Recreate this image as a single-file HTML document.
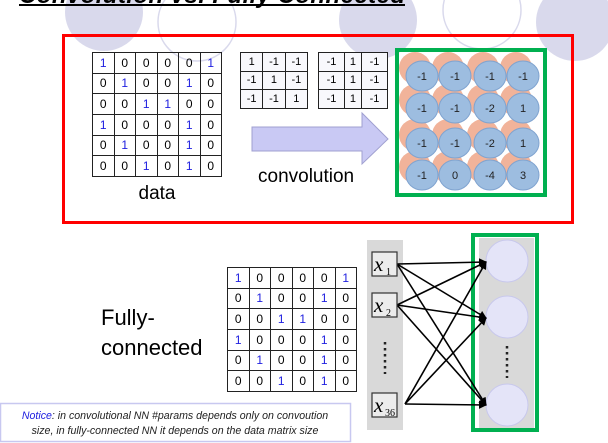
<!DOCTYPE html>
<html><head><meta charset="utf-8"><style>
html,body{margin:0;padding:0;background:#fff;}
body{width:608px;height:443px;overflow:hidden;position:relative;font-family:"Liberation Sans",sans-serif;}
table.m{position:absolute;border-collapse:collapse;}
table.m td{border:1.3px solid #222;text-align:center;padding:0;font-size:12px;color:#000;}
table.m td.b{color:#2020e0;}
table.k td{font-size:11px;background:#f8f8fc;}
</style></head><body>
<svg width="608" height="443" style="position:absolute;left:0;top:0">
<circle cx="104" cy="12" r="39" fill="#d9d9ec"/>
<circle cx="197" cy="22" r="39" fill="none" stroke="#d9d9ec" stroke-width="1.5"/>
<circle cx="378" cy="20" r="39" fill="#d9d9ec"/>
<circle cx="482" cy="10" r="39" fill="none" stroke="#d9d9ec" stroke-width="1.5"/>
<circle cx="575" cy="22" r="39" fill="#d9d9ec"/>
<text x="19" y="3" font-family="Liberation Sans" font-weight="bold" font-style="italic" font-size="24" fill="#000" textLength="386">Convolution vs. Fully Connected</text>
<line x1="19" y1="5" x2="405" y2="5" stroke="#000" stroke-width="2"/>
<rect x="63.5" y="35.5" width="509" height="187" fill="none" stroke="#f00" stroke-width="3"/>
<polygon points="252,127 362,127 362,113 388,139 362,164 362,151 252,151" fill="#c9c9f4" stroke="#a0a0d0" stroke-width="1"/>
<rect x="397" y="50" width="148" height="145" fill="none" stroke="#00b050" stroke-width="4"/>
<g fill="#f1b39a">
<circle cx="415" cy="68" r="16"/><circle cx="448" cy="68" r="16"/><circle cx="483" cy="68" r="16"/><circle cx="516" cy="68" r="16"/>
<circle cx="415" cy="100" r="16"/><circle cx="448" cy="100" r="16"/><circle cx="483" cy="100" r="16"/><circle cx="516" cy="100" r="16"/>
<circle cx="415" cy="135" r="16"/><circle cx="448" cy="135" r="16"/><circle cx="483" cy="135" r="16"/><circle cx="516" cy="135" r="16"/>
<circle cx="415" cy="167" r="16"/><circle cx="448" cy="167" r="16"/><circle cx="483" cy="167" r="16"/><circle cx="516" cy="167" r="16"/>
</g>
<g fill="#9dbde0" stroke="#7fa3cf" stroke-width="1">
<ellipse cx="422" cy="76" rx="16" ry="15"/><ellipse cx="455" cy="76" rx="16" ry="15"/><ellipse cx="490" cy="76" rx="16" ry="15"/><ellipse cx="523" cy="76" rx="16" ry="15"/>
<ellipse cx="422" cy="108" rx="16" ry="15"/><ellipse cx="455" cy="108" rx="16" ry="15"/><ellipse cx="490" cy="108" rx="16" ry="15"/><ellipse cx="523" cy="108" rx="16" ry="15"/>
<ellipse cx="422" cy="143" rx="16" ry="15"/><ellipse cx="455" cy="143" rx="16" ry="15"/><ellipse cx="490" cy="143" rx="16" ry="15"/><ellipse cx="523" cy="143" rx="16" ry="15"/>
<ellipse cx="422" cy="175" rx="16" ry="15"/><ellipse cx="455" cy="175" rx="16" ry="15"/><ellipse cx="490" cy="175" rx="16" ry="15"/><ellipse cx="523" cy="175" rx="16" ry="15"/>
</g>
<g font-family="Liberation Sans" font-size="11" fill="#222" text-anchor="middle">
<text x="422" y="80">-1</text><text x="455" y="80">-1</text><text x="490" y="80">-1</text><text x="523" y="80">-1</text>
<text x="422" y="112">-1</text><text x="455" y="112">-1</text><text x="490" y="112">-2</text><text x="523" y="112">1</text>
<text x="422" y="147">-1</text><text x="455" y="147">-1</text><text x="490" y="147">-2</text><text x="523" y="147">1</text>
<text x="422" y="179">-1</text><text x="455" y="179">0</text><text x="490" y="179">-4</text><text x="523" y="179">3</text>
</g>
<text x="258" y="182" font-family="Liberation Sans" font-size="19" fill="#000">convolution</text>
<text x="157" y="199" font-family="Liberation Sans" font-size="19" fill="#000" text-anchor="middle">data</text>
<rect x="367" y="240" width="36" height="190" fill="#d9d9d9"/>
<rect x="479" y="238" width="55" height="190" fill="#d9d9d9"/>
<rect x="473" y="235" width="64" height="195" fill="none" stroke="#00b050" stroke-width="4"/>
<g fill="#e4e4f8" stroke="#c8c8ec">
<ellipse cx="507" cy="261" rx="21" ry="21"/><ellipse cx="507" cy="317" rx="21" ry="21"/><ellipse cx="507" cy="405" rx="21" ry="21"/>
</g>
<line x1="507" y1="346" x2="507" y2="378" stroke="#222" stroke-width="2.5" stroke-dasharray="2.5,3.5"/>
<line x1="385" y1="342" x2="385" y2="374" stroke="#222" stroke-width="2.5" stroke-dasharray="2.5,3.5"/>
<defs><marker id="a" markerWidth="8" markerHeight="8" refX="7" refY="4" orient="auto" markerUnits="userSpaceOnUse"><path d="M0,0 L8,4 L0,8 z" fill="#000"/></marker></defs>
<g stroke="#000" stroke-width="1.6" marker-end="url(#a)">
<line x1="397" y1="264" x2="486" y2="262"/><line x1="397" y1="264" x2="486" y2="318"/><line x1="397" y1="264" x2="486" y2="405"/>
<line x1="397" y1="305" x2="486" y2="262"/><line x1="397" y1="305" x2="486" y2="318"/><line x1="397" y1="305" x2="486" y2="405"/>
<line x1="405" y1="404" x2="486" y2="262"/><line x1="405" y1="404" x2="486" y2="318"/><line x1="405" y1="404" x2="486" y2="405"/>
</g>
<g fill="#ececec" stroke="#333" stroke-width="1.2">
<rect x="372" y="252" width="25" height="24"/><rect x="372" y="293" width="25" height="24"/><rect x="372" y="393" width="25" height="24"/>
</g>
<g font-family="Liberation Serif" font-style="italic" fill="#000">
<text x="374" y="271" font-size="21">x</text><text x="386" y="275" font-size="10" font-style="normal">1</text>
<text x="374" y="312" font-size="21">x</text><text x="386" y="316" font-size="10" font-style="normal">2</text>
<text x="374" y="412" font-size="21">x</text><text x="385" y="416" font-size="10" font-style="normal">36</text>
</g>
<rect x="0.5" y="403.5" width="350" height="38" fill="#fff" stroke="#c8c8f0" stroke-width="1.5"/>
<text x="175" y="419" font-family="Liberation Sans" font-style="italic" font-size="10.6" fill="#222" text-anchor="middle"><tspan fill="#2020e0">Notice</tspan>: in convolutional NN #params depends only on convoution</text>
<text x="175" y="434" font-family="Liberation Sans" font-style="italic" font-size="10.6" fill="#222" text-anchor="middle">size, in fully-connected NN it depends on the data matrix size</text>
<text x="101" y="325" font-family="Liberation Sans" font-size="22" fill="#000">Fully-</text>
<text x="101" y="355" font-family="Liberation Sans" font-size="22" fill="#000">connected</text>
</svg>

<table class="m" style="left:92px;top:52px;width:130px;height:125px">
<tr><td class="b">1</td><td>0</td><td>0</td><td>0</td><td>0</td><td class="b">1</td></tr>
<tr><td>0</td><td class="b">1</td><td>0</td><td>0</td><td class="b">1</td><td>0</td></tr>
<tr><td>0</td><td>0</td><td class="b">1</td><td class="b">1</td><td>0</td><td>0</td></tr>
<tr><td class="b">1</td><td>0</td><td>0</td><td>0</td><td class="b">1</td><td>0</td></tr>
<tr><td>0</td><td class="b">1</td><td>0</td><td>0</td><td class="b">1</td><td>0</td></tr>
<tr><td>0</td><td>0</td><td class="b">1</td><td>0</td><td class="b">1</td><td>0</td></tr>
</table>
<table class="m k" style="left:240px;top:52px;width:68px;height:57px">
<tr><td>1</td><td>-1</td><td>-1</td></tr>
<tr><td>-1</td><td>1</td><td>-1</td></tr>
<tr><td>-1</td><td>-1</td><td>1</td></tr>
</table>
<table class="m k" style="left:318px;top:52px;width:70px;height:57px">
<tr><td>-1</td><td>1</td><td>-1</td></tr>
<tr><td>-1</td><td>1</td><td>-1</td></tr>
<tr><td>-1</td><td>1</td><td>-1</td></tr>
</table>
<table class="m" style="left:227px;top:267px;width:130px;height:125px">
<tr><td class="b">1</td><td>0</td><td>0</td><td>0</td><td>0</td><td class="b">1</td></tr>
<tr><td>0</td><td class="b">1</td><td>0</td><td>0</td><td class="b">1</td><td>0</td></tr>
<tr><td>0</td><td>0</td><td class="b">1</td><td class="b">1</td><td>0</td><td>0</td></tr>
<tr><td class="b">1</td><td>0</td><td>0</td><td>0</td><td class="b">1</td><td>0</td></tr>
<tr><td>0</td><td class="b">1</td><td>0</td><td>0</td><td class="b">1</td><td>0</td></tr>
<tr><td>0</td><td>0</td><td class="b">1</td><td>0</td><td class="b">1</td><td>0</td></tr>
</table>
</body></html>
